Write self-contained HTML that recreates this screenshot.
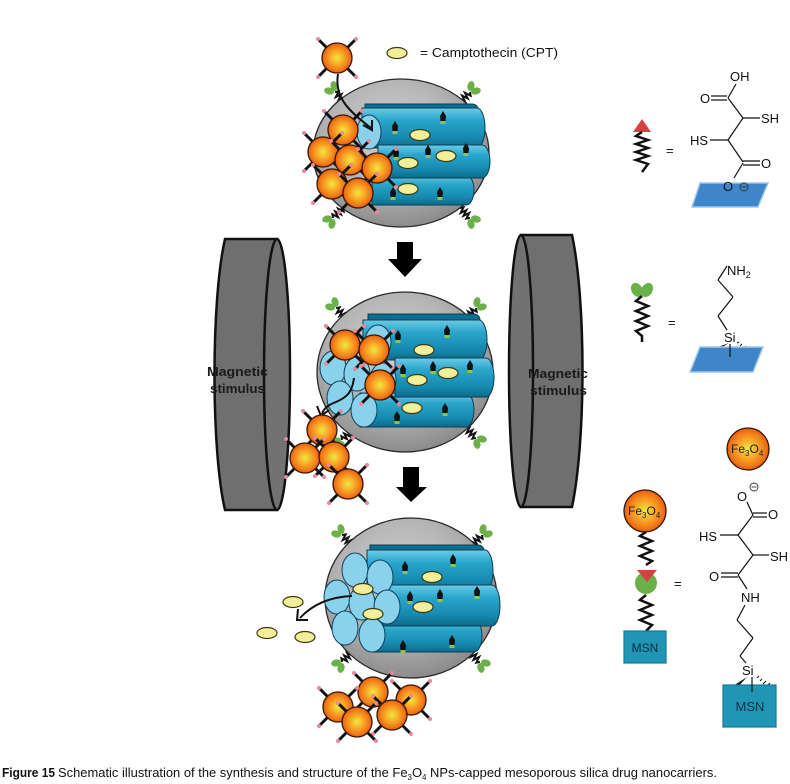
<!DOCTYPE html>
<html><head><meta charset="utf-8"><style>
html,body{margin:0;padding:0;background:#fff;}
svg{display:block;}
text{font-family:"Liberation Sans",sans-serif;}
</style></head><body>
<svg width="790" height="784" viewBox="0 0 790 784" xmlns="http://www.w3.org/2000/svg">
<defs>
  <radialGradient id="gs" cx="45%" cy="38%" r="62%">
    <stop offset="0" stop-color="#d2d2d2"/><stop offset="0.6" stop-color="#b4b4b4"/><stop offset="1" stop-color="#8c8c8c"/>
  </radialGradient>
  <radialGradient id="gb" cx="50%" cy="50%" r="50%">
    <stop offset="0" stop-color="#eee93e"/><stop offset="0.45" stop-color="#f8a828"/><stop offset="0.85" stop-color="#f07416"/><stop offset="1" stop-color="#e45a10"/>
  </radialGradient>
  <linearGradient id="gt" x1="0" y1="0" x2="0" y2="1">
    <stop offset="0" stop-color="#6ccbe6"/><stop offset="0.3" stop-color="#2aa6cb"/><stop offset="0.75" stop-color="#1688ae"/><stop offset="1" stop-color="#0d6a8a"/>
  </linearGradient>
  <g id="b">
    <g stroke="#111" stroke-width="3">
      <line x1="-10" y1="-10" x2="-18" y2="-18"/><line x1="10" y1="-10" x2="18" y2="-18"/>
      <line x1="-10" y1="10" x2="-18" y2="18"/><line x1="10" y1="10" x2="18" y2="18"/>
    </g>
    <g fill="#e88898">
      <circle cx="-19" cy="-19" r="2"/><circle cx="19" cy="-19" r="2"/><circle cx="-19" cy="19" r="2"/><circle cx="19" cy="19" r="2"/>
    </g>
    <circle r="15" fill="url(#gb)" stroke="#3a1800" stroke-width="1.3"/>
  </g>
  <g id="lk">
    <polyline points="0,0 -3,-2 3,-4 -3,-6 3,-8 -3,-10 3,-12 0,-14" fill="none" stroke="#111" stroke-width="2"/>
    <ellipse cx="-3.5" cy="-19" rx="3.5" ry="5" transform="rotate(-30 -3.5 -19)" fill="#6cb04a"/>
    <ellipse cx="3.5" cy="-19" rx="3.5" ry="5" transform="rotate(30 3.5 -19)" fill="#6cb04a"/>
  </g>
  <g id="m">
    <rect x="-2.5" y="2" width="5" height="4" fill="#8cc450"/>
    <path d="M0,-7 L3,-2 L2.5,3 L-2.5,3 L-3,-2Z" fill="#111"/>
  </g>
  <ellipse id="c" rx="10" ry="5.5" fill="#f3ee9a" stroke="#3a3a10" stroke-width="1.2"/>
  <ellipse id="f" rx="13" ry="17" fill="#8ad2ec" stroke="#10405a" stroke-width="1"/>
</defs>

<rect width="790" height="784" fill="#fff"/>

<!-- Legend CPT -->
<use href="#c" x="397" y="53"/>
<text x="420" y="57" font-size="13" fill="#111" textLength="138" lengthAdjust="spacingAndGlyphs">= Camptothecin (CPT)</text>

<!-- ===== TOP SPHERE ===== -->
<use href="#lk" transform="translate(345,102) rotate(-45)"/>
<use href="#lk" transform="translate(460,102) rotate(45)"/>
<use href="#lk" transform="translate(460,208) rotate(135)"/>
<use href="#lk" transform="translate(343,208) rotate(-135)"/>
<ellipse cx="401" cy="153" rx="88" ry="74" fill="url(#gs)" stroke="#2a2a2a" stroke-width="1.3"/>
<path d="M365,104 H472 A6 5 0 0 1 472,114 H365 Z" fill="#0f6e8f" stroke="#0b3f55"/>
<path d="M362,108 H477 A8 20 0 0 1 477,148 H362 Z" fill="url(#gt)" stroke="#0b3f55"/>
<path d="M372,175 H466 A8 15 0 0 1 466,205 H372 Z" fill="url(#gt)" stroke="#0b3f55"/>
<path d="M378,145 H482 A8 16.5 0 0 1 482,178 H378 Z" fill="url(#gt)" stroke="#0b3f55"/>
<ellipse cx="369" cy="132" rx="12" ry="17" fill="#8ad2ec" stroke="#10405a"/>
<use href="#m" x="443" y="118"/><use href="#m" x="395" y="128"/><use href="#m" x="396" y="154"/>
<use href="#m" x="428" y="152"/><use href="#m" x="466" y="150"/><use href="#m" x="393" y="194"/><use href="#m" x="440" y="194"/>
<use href="#c" x="420" y="135"/><use href="#c" x="408" y="163"/><use href="#c" x="446" y="156"/><use href="#c" x="408" y="189"/>
<use href="#b" x="343" y="130"/><use href="#b" x="323" y="152"/><use href="#b" x="350" y="160"/>
<use href="#b" x="377" y="168"/><use href="#b" x="332" y="184"/><use href="#b" x="358" y="193"/>
<use href="#b" x="337" y="58"/>
<path d="M338,74 C334,98 350,112 371,128" fill="none" stroke="#111" stroke-width="2"/>
<polyline points="363,125 372,130 372,120" fill="none" stroke="#111" stroke-width="2"/>

<!-- Arrow 1 -->
<rect x="397" y="242" width="16" height="18" fill="#000"/>
<polygon points="388,259 422,259 405,277" fill="#000"/>

<!-- Magnets -->
<path d="M277,239 H225 C211,300 211,450 225,510 H277 Z" fill="#6f6f6f" stroke="#111" stroke-width="2.5"/>
<ellipse cx="277" cy="374.5" rx="13" ry="135.5" fill="#727272" stroke="#111" stroke-width="2.5"/>
<path d="M521,235 H572 C586,300 586,440 572,507 H521 Z" fill="#6f6f6f" stroke="#111" stroke-width="2.5"/>
<ellipse cx="521" cy="371" rx="12" ry="136" fill="#727272" stroke="#111" stroke-width="2.5"/>
<g font-size="12.5" font-weight="bold" fill="#1a1a1a">
  <text x="207" y="376" textLength="61" lengthAdjust="spacingAndGlyphs">Magnetic</text>
  <text x="210" y="393" textLength="55" lengthAdjust="spacingAndGlyphs">stimulus</text>
  <text x="528" y="378" textLength="60" lengthAdjust="spacingAndGlyphs">Magnetic</text>
  <text x="530" y="395" textLength="57" lengthAdjust="spacingAndGlyphs">stimulus</text>
</g>

<!-- ===== MIDDLE SPHERE ===== -->
<use href="#lk" transform="translate(346,318) rotate(-45)"/>
<use href="#lk" transform="translate(466,318) rotate(45)"/>
<use href="#lk" transform="translate(466,428) rotate(135)"/>
<use href="#lk" transform="translate(352,430) rotate(-135)"/>
<ellipse cx="405" cy="372" rx="88" ry="80" fill="url(#gs)" stroke="#2a2a2a" stroke-width="1.3"/>
<path d="M368,314 H474 A6 6 0 0 1 474,326 H368 Z" fill="#0f6e8f" stroke="#0b3f55"/>
<path d="M363,320 H479 A8 20 0 0 1 479,360 H363 Z" fill="url(#gt)" stroke="#0b3f55"/>
<path d="M360,393 H466 A8 17 0 0 1 466,427 H360 Z" fill="url(#gt)" stroke="#0b3f55"/>
<path d="M395,358 H486 A8 19.5 0 0 1 486,397 H395 Z" fill="url(#gt)" stroke="#0b3f55"/>
<use href="#f" x="378" y="342"/>
<use href="#f" x="333" y="368"/><use href="#f" x="357" y="374"/><use href="#f" x="383" y="380"/>
<use href="#f" x="340" y="398"/><use href="#f" x="364" y="410"/>
<use href="#m" x="398" y="337"/><use href="#m" x="447" y="332"/><use href="#m" x="403" y="371"/>
<use href="#m" x="433" y="368"/><use href="#m" x="470" y="367"/><use href="#m" x="397" y="418"/><use href="#m" x="445" y="410"/>
<use href="#c" x="424" y="350"/><use href="#c" x="417" y="380"/><use href="#c" x="448" y="373"/><use href="#c" x="412" y="408"/>
<use href="#b" x="345" y="345"/><use href="#b" x="374" y="350"/><use href="#b" x="380" y="385"/>
<path d="M354,378 C352,394 345,398 336,402 C328,405 324,408 322,414" fill="none" stroke="#111" stroke-width="2"/>
<polyline points="317,406 321,416 329,410" fill="none" stroke="#111" stroke-width="2"/>
<use href="#b" x="322" y="430"/><use href="#b" x="305" y="458"/><use href="#b" x="334" y="457"/><use href="#b" x="348" y="484"/>

<!-- Arrow 2 -->
<rect x="403" y="467" width="16" height="21" fill="#000"/>
<polygon points="396,487 427,487 411,502" fill="#000"/>

<!-- ===== BOTTOM SPHERE ===== -->
<use href="#lk" transform="translate(352,545) rotate(-45)"/>
<use href="#lk" transform="translate(472,545) rotate(45)"/>
<use href="#lk" transform="translate(470,652) rotate(135)"/>
<use href="#lk" transform="translate(352,652) rotate(-135)"/>
<ellipse cx="411" cy="598" rx="86" ry="80" fill="url(#gs)" stroke="#2a2a2a" stroke-width="1.3"/>
<path d="M370,545 H478 A6 5.5 0 0 1 478,556 H370 Z" fill="#0f6e8f" stroke="#0b3f55"/>
<path d="M367,550 H485 A8 21 0 0 1 485,592 H367 Z" fill="url(#gt)" stroke="#0b3f55"/>
<path d="M373,620 H474 A8 16 0 0 1 474,652 H373 Z" fill="url(#gt)" stroke="#0b3f55"/>
<path d="M383,585 H492 A8 20.5 0 0 1 492,626 H383 Z" fill="url(#gt)" stroke="#0b3f55"/>
<use href="#f" x="355" y="570"/><use href="#f" x="380" y="577"/>
<use href="#f" x="337" y="597"/><use href="#f" x="362" y="603"/><use href="#f" x="387" y="607"/>
<use href="#f" x="345" y="628"/><use href="#f" x="372" y="635"/>
<use href="#m" x="405" y="568"/><use href="#m" x="453" y="561"/><use href="#m" x="410" y="598"/>
<use href="#m" x="440" y="596"/><use href="#m" x="477" y="593"/><use href="#m" x="403" y="647"/><use href="#m" x="452" y="642"/>
<use href="#c" x="432" y="577"/><use href="#c" x="363" y="589"/><use href="#c" x="423" y="607"/><use href="#c" x="373" y="614"/>
<path d="M352,596 C328,597 312,605 300,618" fill="none" stroke="#111" stroke-width="2"/>
<polyline points="298,609 297,620 308,620" fill="none" stroke="#111" stroke-width="2"/>
<use href="#c" x="293" y="602"/><use href="#c" x="267" y="633"/><use href="#c" x="305" y="637"/>
<use href="#b" x="373" y="692"/><use href="#b" x="411" y="700"/><use href="#b" x="338" y="707"/>
<use href="#b" x="392" y="715"/><use href="#b" x="357" y="722"/>

<!-- ===== RIGHT LEGEND ===== -->
<polygon points="633,132 651,132 642,119" fill="#d84040"/>
<polyline points="642,132 636,136 648,140 636,144 648,148 636,152 648,156 636,160 648,164 642,172" fill="none" stroke="#111" stroke-width="2.5"/>
<text x="666" y="155" font-size="13" fill="#111">=</text>

<!-- top structure -->
<g stroke="#111" stroke-width="1.2" fill="none">
  <line x1="711" y1="96" x2="727" y2="96"/><line x1="711" y1="100" x2="727" y2="100"/>
  <line x1="728" y1="98" x2="736" y2="84"/>
  <line x1="728" y1="98" x2="743" y2="118"/>
  <line x1="743" y1="118" x2="760" y2="118"/>
  <line x1="743" y1="118" x2="728" y2="140"/>
  <line x1="710" y1="140" x2="728" y2="140"/>
  <line x1="728" y1="140" x2="743" y2="162"/>
  <line x1="743" y1="161" x2="760" y2="161"/><line x1="743" y1="165" x2="760" y2="165"/>
  <line x1="743" y1="163" x2="734" y2="178"/>
</g>
<polygon points="700,183 768,183 758,207 692,207" fill="#3f86c8" stroke="#9cc8ec" stroke-width="1.5"/>
<g font-size="13" fill="#111">
  <text x="730" y="81">OH</text>
  <text x="700" y="103">O</text>
  <text x="761" y="123">SH</text>
  <text x="690" y="145">HS</text>
  <text x="761" y="168">O</text>
  <text x="723" y="191">O</text>
</g>
<circle cx="744" cy="187" r="4" fill="none" stroke="#333" stroke-width="0.9"/>
<line x1="741.5" y1="187" x2="746.5" y2="187" stroke="#333" stroke-width="0.9"/>

<!-- green icon -->
<ellipse cx="637" cy="290" rx="5.5" ry="7.5" transform="rotate(-30 637 290)" fill="#6cb04a"/>
<ellipse cx="647" cy="290" rx="5.5" ry="7.5" transform="rotate(30 647 290)" fill="#6cb04a"/>
<polyline points="642,296 636,301 648,306 636,311 648,316 636,321 648,326 636,331 642,336 642,342" fill="none" stroke="#111" stroke-width="2.5"/>
<text x="668" y="327" font-size="13" fill="#111">=</text>

<!-- aminopropyl structure -->
<g stroke="#111" stroke-width="1.2" fill="none">
  <line x1="727" y1="266" x2="718" y2="280"/>
  <line x1="718" y1="280" x2="733" y2="297"/>
  <line x1="733" y1="297" x2="718" y2="316"/>
  <line x1="718" y1="316" x2="727" y2="330"/>
</g>
<polygon points="729,343 704,352 707,356" fill="#111"/>
<g stroke="#111" stroke-width="1">
  <line x1="737" y1="343" x2="739" y2="342"/><line x1="740" y1="346" x2="742" y2="344"/>
  <line x1="743" y1="349" x2="746" y2="346"/><line x1="746" y1="352" x2="750" y2="348"/>
</g>
<polygon points="700,347 763,347 753,372 690,372" fill="#3f86c8" stroke="#9cc8ec" stroke-width="1.5"/>
<line x1="730" y1="344" x2="730" y2="357" stroke="#111" stroke-width="1.2"/>
<g font-size="13" fill="#111">
  <text x="727" y="275">NH<tspan font-size="9" dy="3">2</tspan></text>
  <text x="724" y="342">Si</text>
</g>

<!-- Fe3O4 balls -->
<circle cx="748" cy="449" r="21" fill="url(#gb)" stroke="#3a1800" stroke-width="1.3"/>
<text x="731" y="453" font-size="12" fill="#222">Fe<tspan font-size="8" dy="3">3</tspan><tspan dy="-3">O</tspan><tspan font-size="8" dy="3">4</tspan></text>
<circle cx="645" cy="511" r="21" fill="url(#gb)" stroke="#3a1800" stroke-width="1.3"/>
<text x="628" y="515" font-size="12" fill="#222">Fe<tspan font-size="8" dy="3">3</tspan><tspan dy="-3">O</tspan><tspan font-size="8" dy="3">4</tspan></text>

<!-- left assembly -->
<polyline points="646,532 640,536 652,541 640,546 652,551 640,556 652,561 646,565" fill="none" stroke="#111" stroke-width="2.5"/>
<circle cx="646" cy="583" r="11" fill="#6cb04a"/>
<polygon points="637,570 657,570 647,582" fill="#d84040"/>
<polyline points="646,595 640,600 652,605 640,610 652,615 640,620 652,625 646,631" fill="none" stroke="#111" stroke-width="2.5"/>
<rect x="624" y="631" width="42" height="32" fill="#2196b4" stroke="#137a96" stroke-width="1.2"/>
<text x="645" y="652" font-size="12" fill="#0b2e44" text-anchor="middle">MSN</text>
<text x="674" y="588" font-size="13" fill="#111">=</text>

<!-- bottom-right structure -->
<g stroke="#111" stroke-width="1.2" fill="none">
  <line x1="747" y1="502" x2="753" y2="515"/>
  <line x1="753" y1="513" x2="767" y2="513"/><line x1="753" y1="517" x2="767" y2="517"/>
  <line x1="753" y1="515" x2="738" y2="535"/>
  <line x1="720" y1="535" x2="738" y2="535"/>
  <line x1="738" y1="535" x2="753" y2="555"/>
  <line x1="753" y1="555" x2="769" y2="555"/>
  <line x1="753" y1="555" x2="738" y2="575"/>
  <line x1="721" y1="573" x2="738" y2="573"/><line x1="721" y1="577" x2="738" y2="577"/>
  <line x1="738" y1="575" x2="747" y2="589"/>
  <line x1="745" y1="605" x2="737" y2="620"/>
  <line x1="737" y1="620" x2="753" y2="638"/>
  <line x1="753" y1="638" x2="740" y2="656"/>
  <line x1="740" y1="656" x2="746" y2="663"/>
</g>
<polygon points="747,677 733,686 736,689" fill="#111"/>
<g stroke="#111" stroke-width="1">
  <line x1="757" y1="678" x2="759" y2="676"/><line x1="760" y1="681" x2="762" y2="679"/>
  <line x1="763" y1="684" x2="766" y2="681"/><line x1="766" y1="687" x2="770" y2="683"/>
</g>
<rect x="723" y="685" width="53" height="42" fill="#2196b4" stroke="#137a96" stroke-width="1.2"/>
<line x1="752" y1="677" x2="752" y2="692" stroke="#111" stroke-width="1.2"/>
<text x="750" y="711" font-size="13" fill="#0b2e44" text-anchor="middle">MSN</text>
<g font-size="13" fill="#111">
  <text x="737" y="501">O</text>
  <text x="768" y="519">O</text>
  <text x="699" y="541">HS</text>
  <text x="770" y="561">SH</text>
  <text x="709" y="581">O</text>
  <text x="741" y="602">NH</text>
  <text x="742" y="675">Si</text>
</g>
<circle cx="754" cy="487" r="4" fill="none" stroke="#333" stroke-width="0.9"/>
<line x1="751.5" y1="487" x2="756.5" y2="487" stroke="#333" stroke-width="0.9"/>

<!-- Caption -->
<text x="2" y="777" font-size="13" font-weight="bold" fill="#111" textLength="53" lengthAdjust="spacingAndGlyphs">Figure 15</text>
<text x="58" y="777" font-size="13" fill="#111" textLength="659" lengthAdjust="spacingAndGlyphs">Schematic illustration of the synthesis and structure of the Fe<tspan font-size="8" dy="3">3</tspan><tspan dy="-3">O</tspan><tspan font-size="8" dy="3">4</tspan><tspan dy="-3"> NPs-capped mesoporous silica drug nanocarriers.</tspan></text>
</svg>
</body></html>
